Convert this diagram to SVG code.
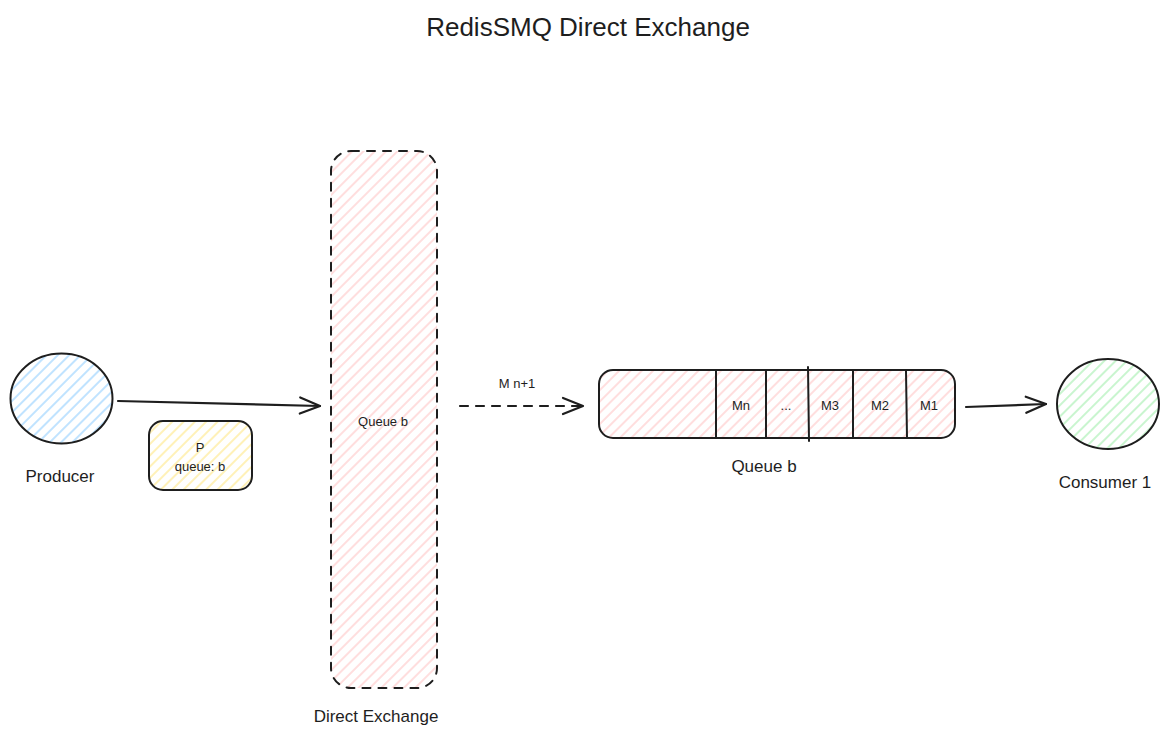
<svg xmlns="http://www.w3.org/2000/svg" width="1170" height="738" viewBox="0 0 1170 738">
<style>
.t{font-family:"Liberation Sans","DejaVu Sans",sans-serif;fill:#1e1e1e;text-anchor:middle;dominant-baseline:central}
.s{stroke:#1e1e1e;stroke-width:2;stroke-linecap:round;stroke-linejoin:round}
.c{fill:none;stroke:#1e1e1e;stroke-width:2.2;stroke-linecap:round}
</style>
<defs>
<pattern id="hb" patternUnits="userSpaceOnUse" width="8" height="8" patternTransform="rotate(-45)"><rect width="8" height="8" fill="#fff"/><line x1="0" y1="4" x2="8" y2="4" stroke="#a5d8ff" stroke-width="1.4"/></pattern>
<pattern id="hp" patternUnits="userSpaceOnUse" width="8" height="8" patternTransform="rotate(-45)"><rect width="8" height="8" fill="#fff"/><line x1="0" y1="4" x2="8" y2="4" stroke="#ffc9c9" stroke-width="1.2"/></pattern>
<pattern id="hy" patternUnits="userSpaceOnUse" width="8" height="8" patternTransform="rotate(-45)"><rect width="8" height="8" fill="#fff"/><line x1="0" y1="4" x2="8" y2="4" stroke="#ffec99" stroke-width="1.4"/></pattern>
<pattern id="hg" patternUnits="userSpaceOnUse" width="8" height="8" patternTransform="rotate(-45)"><rect width="8" height="8" fill="#fff"/><line x1="0" y1="4" x2="8" y2="4" stroke="#b2f2bb" stroke-width="1.4"/></pattern>
<marker id="ah" markerWidth="24" markerHeight="20" refX="22" refY="10" orient="auto" markerUnits="userSpaceOnUse"><path d="M2,2 L22,10 L2,18" fill="none" stroke="#1e1e1e" stroke-width="2.2" stroke-linecap="round" stroke-linejoin="round"/></marker>
</defs>
<rect width="1170" height="738" fill="#fff"/>
<text class="t" x="588" y="27" font-size="26">RedisSMQ Direct Exchange</text>

<g id="producer">
<ellipse class="s" cx="61.5" cy="398.5" rx="51" ry="45" fill="url(#hb)" stroke-width="2.5"/>
<text class="t" x="60" y="476" font-size="17">Producer</text>
</g>

<g id="message">
<rect class="s" x="149" y="421" width="103" height="69" rx="14" fill="url(#hy)"/>
<text class="t" x="200" y="447" font-size="13">P</text>
<text class="t" x="200" y="466" font-size="13">queue: b</text>
</g>

<g id="exchange">
<rect class="s" x="331" y="151" width="106" height="537" rx="20" fill="url(#hp)" stroke-dasharray="8 8"/>
<text class="t" x="383" y="421" font-size="13">Queue b</text>
<text class="t" x="376" y="716" font-size="17">Direct Exchange</text>
</g>

<g id="queue">
<rect class="s" x="599" y="370" width="356" height="68" rx="14" fill="url(#hp)"/>
<line class="s" x1="716" y1="371" x2="716" y2="438"/>
<line class="s" x1="766" y1="371" x2="766" y2="438"/>
<line class="s" x1="808" y1="367" x2="809" y2="441"/>
<line class="s" x1="853" y1="371" x2="853" y2="438"/>
<line class="s" x1="906" y1="371" x2="907" y2="438"/>
<text class="t" x="741" y="405" font-size="13">Mn</text>
<text class="t" x="786" y="405" font-size="13">...</text>
<text class="t" x="830" y="405" font-size="13">M3</text>
<text class="t" x="880" y="405" font-size="13">M2</text>
<text class="t" x="929" y="405" font-size="13">M1</text>
<text class="t" x="764" y="466" font-size="17">Queue b</text>
</g>

<g id="consumer">
<ellipse class="s" cx="1108" cy="404" rx="51" ry="45" fill="url(#hg)" stroke-width="2.5"/>
<text class="t" x="1105" y="482" font-size="17">Consumer 1</text>
</g>

<g id="connectors">
<line class="c" x1="118" y1="401" x2="320" y2="406" marker-end="url(#ah)"/>
<line class="c" x1="460" y1="406" x2="583" y2="406" stroke-dasharray="8 8" marker-end="url(#ah)"/>
<text class="t" x="517" y="383" font-size="13">M n+1</text>
<line class="c" x1="966" y1="407" x2="1046" y2="404" marker-end="url(#ah)"/>
</g>
</svg>
